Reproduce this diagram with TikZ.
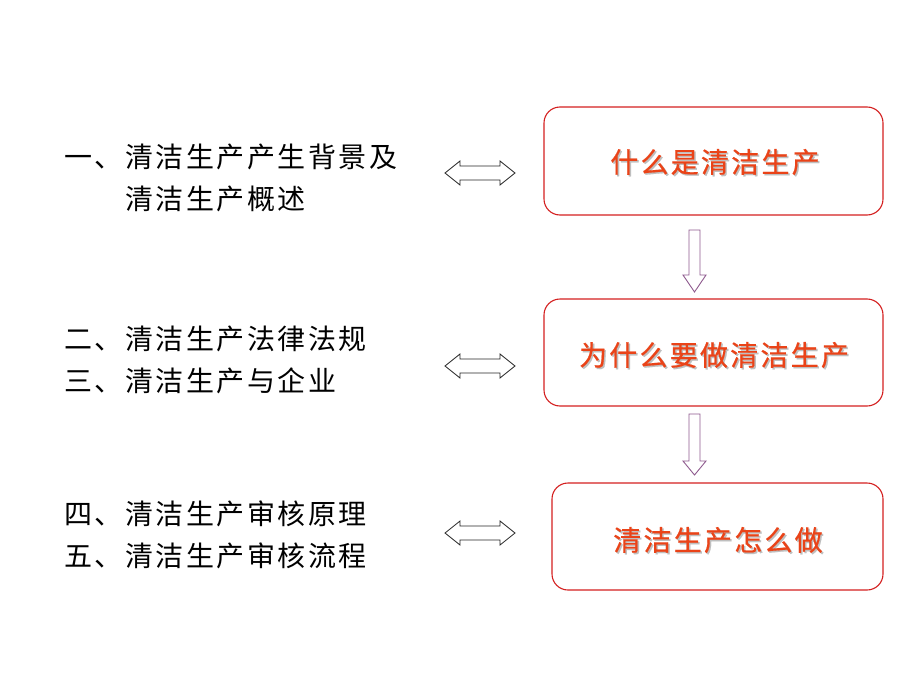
\documentclass[tikz,border=0pt]{standalone}
\usepackage{fontspec}
\newfontfamily\cjk[LetterSpace=9]{Noto Sans CJK SC}
\newfontfamily\cjkb[LetterSpace=8,FakeBold=0.6]{Noto Sans CJK SC}
\definecolor{boxred}{HTML}{D42020}
\definecolor{txtred}{HTML}{EA4318}
\definecolor{arrpurple}{HTML}{8E5A8E}
\tikzset{
  lefttext/.style={anchor=west,inner sep=0pt,font=\cjk\fontsize{28}{32}\selectfont,text=black},
  stagebox/.style={draw=boxred,line width=1.1pt,rounded corners=16pt,inner sep=0pt},
  stagetext/.style={inner sep=0pt,font=\cjkb\fontsize{28}{32}\selectfont,text=txtred},
  stageshadow/.style={inner sep=0pt,font=\cjkb\fontsize{28}{32}\selectfont,text=black!25},
  dblarrow/.style={draw=black!85,line width=0.8pt,fill=white,line join=miter},
  downarrow/.style={draw=arrpurple,line width=0.9pt,fill=white,line join=miter}
}
\begin{document}
\begin{tikzpicture}[x=1pt,y=-1pt]
\useasboundingbox[fill=white] (0,0) rectangle (920,690);
% left texts
\node[lefttext] (l1) at (64,157) {一、清洁生产产生背景及};
\node[lefttext] (l2) at (125,199) {清洁生产概述};
\node[lefttext] (l3) at (64,339) {二、清洁生产法律法规};
\node[lefttext] (l4) at (64,381) {三、清洁生产与企业};
\node[lefttext] (l5) at (64,514) {四、清洁生产审核原理};
\node[lefttext] (l6) at (64,556) {五、清洁生产审核流程};
% boxes
\draw[stagebox] (544,107) rectangle (883,215);
\draw[stagebox] (544,299) rectangle (883,406);
\draw[stagebox] (552,483) rectangle (883,590);
\node[stageshadow] (s1) at (716.5,163.5) {什么是清洁生产};
\node[stagetext] (t1) at (715,162) {什么是清洁生产};
\node[stageshadow] (s2) at (715.5,356.5) {为什么要做清洁生产};
\node[stagetext] (t2) at (714,355) {为什么要做清洁生产};
\node[stageshadow] (s3) at (719.5,541.5) {清洁生产怎么做};
\node[stagetext] (t3) at (718,540) {清洁生产怎么做};
% double arrows
\foreach \c/\n in {173/a1,366/a2,533/a3}{
  \draw[dblarrow] (445,\c) -- (460,\c-12) -- (460,\c-7) -- (500,\c-7) -- (500,\c-12)
    -- (515,\c) -- (500,\c+12) -- (500,\c+7) -- (460,\c+7) -- (460,\c+12) -- cycle;
}
% down arrows
\draw[downarrow] (689,230) -- (700,230) -- (700,275) -- (706,275) -- (694.5,292)
  -- (683,275) -- (689,275) -- cycle;
\draw[downarrow] (689,414) -- (700,414) -- (700,461) -- (706,461) -- (694.5,475)
  -- (683,461) -- (689,461) -- cycle;
\end{tikzpicture}
\end{document}
